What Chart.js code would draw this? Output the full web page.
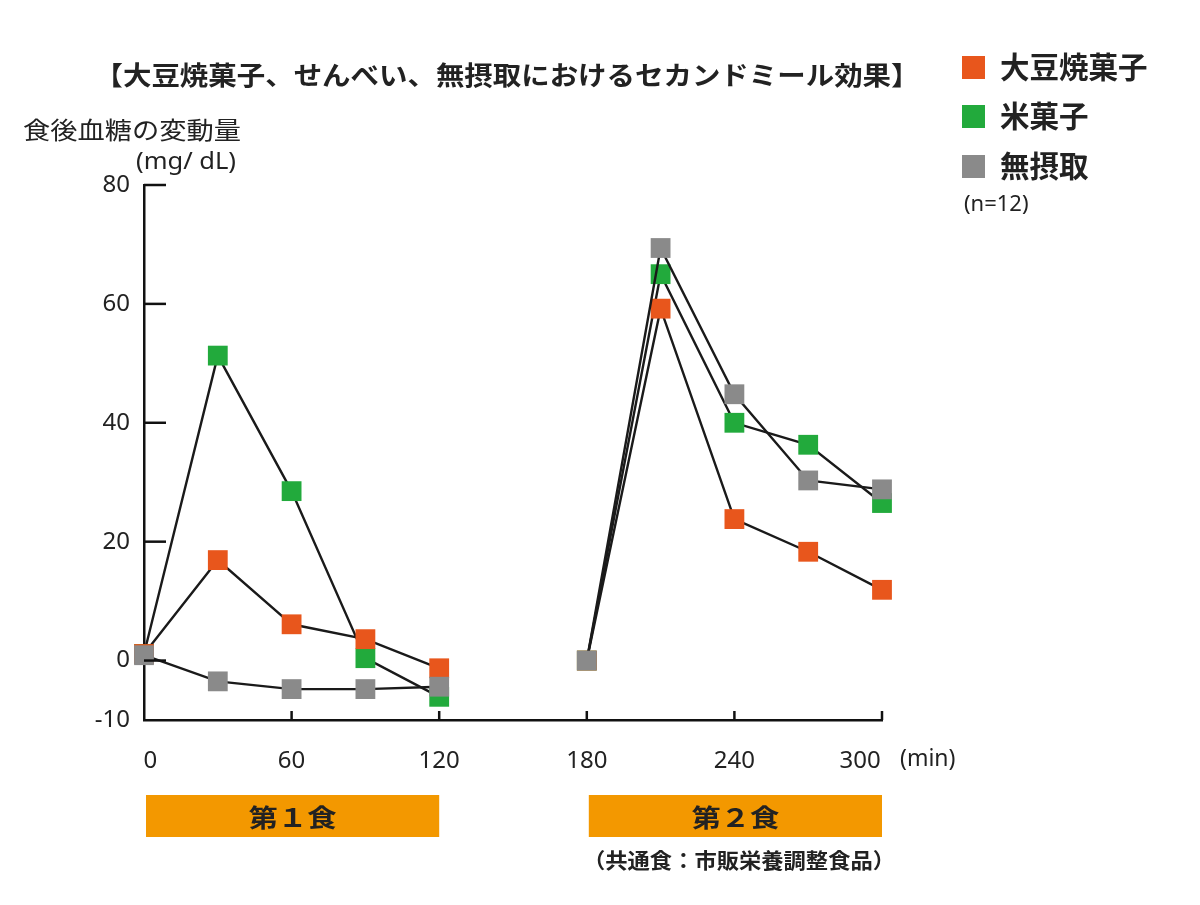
<!DOCTYPE html>
<html><head><meta charset="utf-8">
<script src="https://cdn.jsdelivr.net/npm/chart.js@4"></script>
<style>html,body{margin:0;padding:0;background:#fff}</style>
</head><body>
<canvas id="c" width="1200" height="905"></canvas>
<script>
const minutes = [0, 30, 60, 90, 120, 150, 180, 210, 240, 270, 300];
const soyValues  = [1.1, 16.9, 6.1, 3.6, -1.3, null, 0, 59.2, 23.8, 18.3, 11.9];
const riceValues = [1.1, 51.3, 28.5, 0.4, -6.1, null, 0, 65.0, 40.0, 36.3, 26.5];
const noneValues = [0.9, -3.5, -4.8, -4.8, -4.4, null, 0, 69.4, 44.8, 30.3, 28.8];
const seriesNames = ['大豆焼菓子', '米菓子', '無摂取'];
const seriesColors = ['#E8561C', '#22AA3C', '#8A8A8A'];
const yTicks = [-10, 0, 20, 40, 60, 80];
const xTicks = [0, 60, 120, 180, 240, 300];
const mealLabels = ['第１食', '第２食'];
const mealRanges = [[0, 120], [180, 300]];
const titleText = '【大豆焼菓子、せんべい、無摂取におけるセカンドミール効果】';
const yTitle = ['食後血糖の変動量', '(mg/ dL)'];
const xUnit = '(min)';
const sampleNote = '(n=12)';
const mealNote = '（共通食：市販栄養調整食品）';

const JP = '"Noto Sans CJK JP", "Noto Sans", sans-serif';
const NUM = '"Noto Sans", "Open Sans", sans-serif';
const INK = '#222';

function toPoints(arr) { return minutes.map((m, i) => ({ x: m, y: arr[i] })); }

function fitText(ctx, text, cx, cy, width, font, color) {
  ctx.save();
  ctx.font = font;
  const w = ctx.measureText(text).width;
  ctx.translate(cx, cy);
  ctx.scale(width / w, 1);
  ctx.textAlign = 'center';
  ctx.textBaseline = 'middle';
  ctx.fillStyle = color;
  ctx.fillText(text, 0, 0);
  ctx.restore();
}

const decor = {
  id: 'decor',
  afterDraw(chart) {
    const ctx = chart.ctx;
    const xs = chart.scales.x, ys = chart.scales.y;
    const area = chart.chartArea;
    ctx.save();
    // inward tick marks
    ctx.strokeStyle = '#111';
    ctx.lineWidth = 2.5;
    yTicks.forEach(v => {
      if (v === -10) return;
      const py = ys.getPixelForValue(v);
      ctx.beginPath(); ctx.moveTo(area.left, py); ctx.lineTo(area.left + 22, py); ctx.stroke();
    });
    xTicks.forEach(v => {
      if (v === 0) return;
      const px = xs.getPixelForValue(v);
      ctx.beginPath(); ctx.moveTo(px, area.bottom); ctx.lineTo(px, area.bottom - 9); ctx.stroke();
    });
    // title
    fitText(ctx, titleText, 507, 75, 825, 'bold 26px ' + JP, INK);
    // y title
    fitText(ctx, yTitle[0], 132, 130, 218, '24px ' + JP, INK);
    fitText(ctx, yTitle[1], 186, 162, 100, '23px ' + NUM, INK);
    // x unit
    ctx.font = '23px ' + NUM;
    ctx.fillStyle = INK;
    ctx.textAlign = 'left';
    ctx.textBaseline = 'middle';
    ctx.fillText(xUnit, 900, 759);
    // legend
    const legY = [67, 116, 166];
    chart.data.datasets.forEach((ds, i) => {
      ctx.fillStyle = ds.pointBackgroundColor;
      ctx.fillRect(962, legY[i] - 11, 23, 23);
      ctx.fillStyle = INK;
      ctx.font = 'bold 29.5px ' + JP;
      ctx.textAlign = 'left';
      ctx.textBaseline = 'middle';
      ctx.fillText(ds.label, 1000, legY[i]);
    });
    ctx.font = '22px ' + NUM;
    ctx.fillStyle = INK;
    ctx.textAlign = 'left';
    ctx.fillText(sampleNote, 964, 205);
    // meal bars
    mealRanges.forEach((r, i) => {
      const x0 = xs.getPixelForValue(r[0]) + 2, x1 = xs.getPixelForValue(r[1]);
      ctx.fillStyle = '#F39800';
      ctx.fillRect(x0, 795, x1 - x0, 42);
      fitText(ctx, mealLabels[i], (x0 + x1) / 2, 817, 88, 'bold 25px ' + JP, INK);
    });
    fitText(ctx, mealNote, 739, 860, 312, 'bold 21px ' + JP, INK);
    ctx.restore();
  }
};

function makeDataset(i, arr, order) {
  return {
    label: seriesNames[i],
    data: toPoints(arr),
    borderColor: '#1a1a1a',
    borderWidth: 2.4,
    pointStyle: 'rect',
    pointRadius: 14,
    pointBorderWidth: 0,
    pointBackgroundColor: seriesColors[i],
    pointBorderColor: seriesColors[i],
    spanGaps: false,
    tension: 0,
    clip: false,
    order: order
  };
}

new Chart(document.getElementById('c'), {
  type: 'line',
  data: {
    datasets: [
      makeDataset(0, soyValues, 1),
      makeDataset(1, riceValues, 2),
      makeDataset(2, noneValues, 0)
    ]
  },
  options: {
    responsive: false,
    animation: false,
    devicePixelRatio: 1,
    layout: { autoPadding: false, padding: { left: 0, right: 318, top: 185, bottom: 0 } },
    plugins: { legend: { display: false }, tooltip: { enabled: false } },
    scales: {
      x: {
        type: 'linear', min: 0, max: 300,
        afterBuildTicks: s => { s.ticks = xTicks.map(v => ({ value: v })); },
        afterFit: s => { s.height = 185; },
        grid: { drawOnChartArea: false, drawTicks: false },
        border: { color: '#111', width: 2.5 },
        ticks: {
          padding: 27, color: INK, font: { family: NUM, size: 24 }, maxRotation: 0,
          callback: v => v === 300 ? '300' + '\u00a0'.repeat(7) : (v === 0 ? '\u00a0\u00a0' + v : String(v))
        }
      },
      y: {
        type: 'linear', min: -10, max: 80,
        afterBuildTicks: s => { s.ticks = yTicks.map(v => ({ value: v })); },
        afterFit: s => { s.width = 144; },
        grid: { drawOnChartArea: false, drawTicks: false },
        border: { color: '#111', width: 2.5 },
        ticks: { padding: 14, color: INK, font: { family: NUM, size: 24 } }
      }
    }
  },
  plugins: [decor]
});
</script>
</body></html>
